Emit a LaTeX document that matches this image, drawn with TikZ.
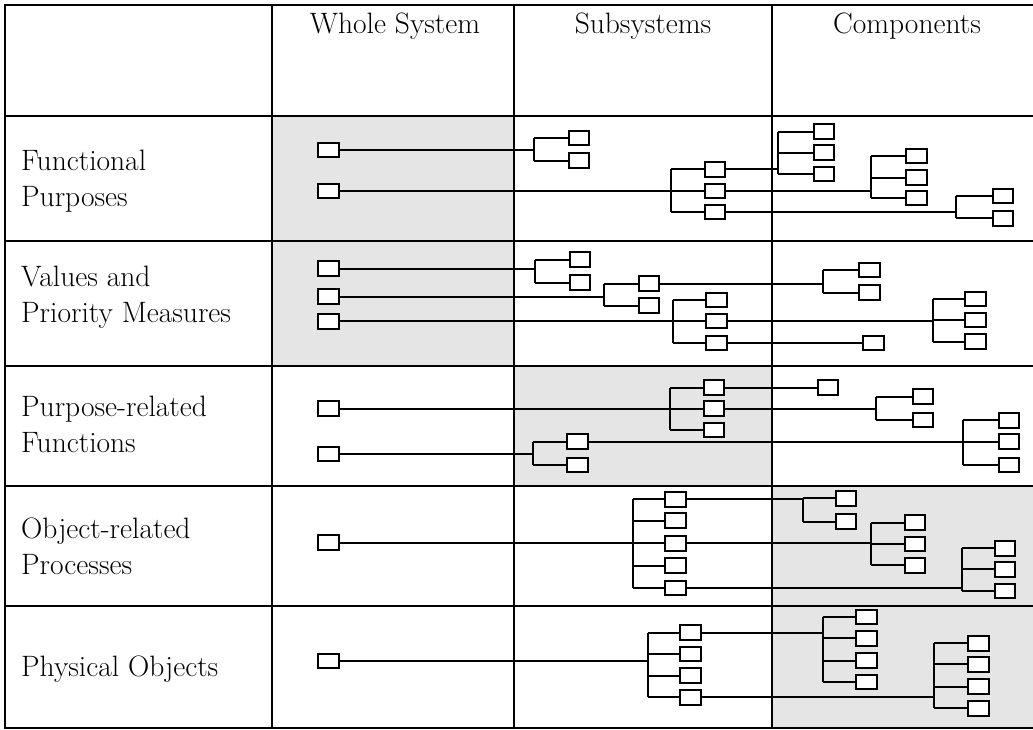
\documentclass[tikz,border=0pt]{standalone}
\definecolor{cellgray}{RGB}{229,229,229}
\newcommand\labelfont{\fontsize{29.5}{36}\selectfont}
\tikzset{
  tablerule/.style={line width=2.5pt, line cap=rect},
  link/.style={line width=2pt},
  unit/.style={draw, line width=2pt, fill=white, minimum width=20.5pt,
    minimum height=14.5pt, inner sep=0pt, outer sep=0pt},
  header/.style={anchor=base, font=\labelfont, inner sep=0pt},
  rowlabel/.style={anchor=north west, align=left, font=\labelfont, inner sep=0pt}
}
% parent, bracket x, first child, last child, all children
\newcommand\branch[5]{%
  \draw[link] (#1.east) -- (#2,0 |- #1.east);
  \draw[link] (#2,0 |- #3.west) -- (#2,0 |- #4.west);
  \foreach \kid in {#5} {\draw[link] (#2,0 |- \kid.west) -- (\kid.west);}
}
\begin{document}
\begin{tikzpicture}[x=1pt,y=-1pt]
\useasboundingbox (0,0) rectangle (1033,730);
\clip (0,0) rectangle (1033,730);

% shaded cells
\fill[cellgray] (272,116) rectangle (514,366);
\fill[cellgray] (514,366) rectangle (772,486);
\fill[cellgray] (772,486) rectangle (1045,728);

% table rules
\foreach \yy in {5,116,241,366,486,606,728}
  \draw[tablerule] (5,\yy) -- (1045,\yy);
\foreach \xx in {5,272,514,772}
  \draw[tablerule] (\xx,5) -- (\xx,728);

% column headers
\node[header] (hw) at (395,34) {Whole System};
\node[header] (hs) at (643,34) {Subsystems};
\node[header] (hc) at (907,34) {Components};

% row labels
\node[rowlabel] (l1) at (21,148) {\rule{0pt}{22pt}Functional\\Purposes};
\node[rowlabel] (l2) at (21,264.7) {\rule{0pt}{22pt}Values and\\Priority Measures};
\node[rowlabel] (l3) at (21,394.7) {\rule{0pt}{22pt}Purpose-related\\Functions};
\node[rowlabel] (l4) at (21,516.3) {\rule{0pt}{22pt}Object-related\\Processes};
\node[rowlabel] (l5) at (21,654.7) {\rule{0pt}{22pt}Physical Objects};

% ---- Functional Purposes
\node[unit] (wa) at (328.5,150) {};
\node[unit] (wb) at (328.5,191) {};
\node[unit] (sa1) at (579,138) {};
\node[unit] (sa2) at (579,160.7) {};
\node[unit] (sb1) at (715,169.3) {};
\node[unit] (sb2) at (715,191) {};
\node[unit] (sb3) at (715,212) {};
\node[unit] (ca1) at (824,131.7) {};
\node[unit] (ca2) at (824,152.7) {};
\node[unit] (ca3) at (824,174) {};
\node[unit] (cb1) at (916.5,156) {};
\node[unit] (cb2) at (916.5,177.7) {};
\node[unit] (cb3) at (916.5,198) {};
\node[unit] (cc1) at (1003,196) {};
\node[unit] (cc2) at (1003,218.3) {};
\branch{wa}{534}{sa1}{sa2}{sa1,sa2}
\branch{wb}{671}{sb1}{sb3}{sb1,sb2,sb3}
\branch{sb1}{778}{ca1}{ca3}{ca1,ca2,ca3}
\branch{sb2}{870.7}{cb1}{cb3}{cb1,cb2,cb3}
\branch{sb3}{956}{cc1}{cc2}{cc1,cc2}

% ---- Values and Priority Measures
\node[unit] (va) at (328.5,268.5) {};
\node[unit] (vb) at (328.5,296.5) {};
\node[unit] (vc) at (328.5,321.3) {};
\node[unit] (va1) at (580,259.5) {};
\node[unit] (va2) at (580,282.7) {};
\node[unit] (vb1) at (649,283.5) {};
\node[unit] (vb2) at (649,305.5) {};
\node[unit] (vc1) at (716.5,300) {};
\node[unit] (vc2) at (716.5,321) {};
\node[unit] (vc3) at (716.5,343) {};
\node[unit] (vd1) at (869.7,270) {};
\node[unit] (vd2) at (869.7,292.7) {};
\node[unit] (ve1) at (975.7,299) {};
\node[unit] (ve2) at (975.7,320) {};
\node[unit] (ve3) at (975.7,341.7) {};
\node[unit] (vf) at (873.7,343) {};
\branch{va}{535.3}{va1}{va2}{va1,va2}
\branch{vb}{604}{vb1}{vb2}{vb1,vb2}
\branch{vc}{672.7}{vc1}{vc3}{vc1,vc2,vc3}
\branch{vb1}{823.3}{vd1}{vd2}{vd1,vd2}
\branch{vc2}{933.3}{ve1}{ve3}{ve1,ve2,ve3}
\draw[link] (vc3.east) -- (vf.west);

% ---- Purpose-related Functions
\node[unit] (pa) at (328.5,408.5) {};
\node[unit] (pb) at (328.5,454) {};
\node[unit] (pa1) at (714,387.5) {};
\node[unit] (pa2) at (714,408.5) {};
\node[unit] (pa3) at (714,430) {};
\node[unit] (pb1) at (577.7,441.7) {};
\node[unit] (pb2) at (577.7,465) {};
\node[unit] (pc) at (828,387.5) {};
\node[unit] (pd1) at (923,396.7) {};
\node[unit] (pd2) at (923,420) {};
\node[unit] (pe1) at (1009,420.3) {};
\node[unit] (pe2) at (1009,441.7) {};
\node[unit] (pe3) at (1009,465) {};
\branch{pa}{670.3}{pa1}{pa3}{pa1,pa2,pa3}
\branch{pb}{532.7}{pb1}{pb2}{pb1,pb2}
\branch{pa2}{876}{pd1}{pd2}{pd1,pd2}
\branch{pb1}{963.3}{pe1}{pe3}{pe1,pe2,pe3}
\draw[link] (pa1.east) -- (pc.west);

% ---- Object-related Processes
\node[unit] (oa) at (328.5,542.5) {};
\node[unit] (o1) at (675.7,499.3) {};
\node[unit] (o2) at (675.7,520.5) {};
\node[unit] (o3) at (675.7,543.3) {};
\node[unit] (o4) at (675.7,565.7) {};
\node[unit] (o5) at (675.7,588) {};
\node[unit] (ob1) at (846,498.3) {};
\node[unit] (ob2) at (846,521.7) {};
\node[unit] (oc1) at (915,522.7) {};
\node[unit] (oc2) at (915,544) {};
\node[unit] (oc3) at (915,565.3) {};
\node[unit] (od1) at (1005,548.3) {};
\node[unit] (od2) at (1005,569.3) {};
\node[unit] (od3) at (1005,591) {};
\branch{oa}{633.3}{o1}{o5}{o1,o2,o3,o4,o5}
\branch{o1}{802.7}{ob1}{ob2}{ob1,ob2}
\branch{o3}{871}{oc1}{oc3}{oc1,oc2,oc3}
\branch{o5}{961.7}{od1}{od3}{od1,od2,od3}

% ---- Physical Objects
\node[unit] (ha) at (328.5,661) {};
\node[unit] (h1) at (690.3,632.7) {};
\node[unit] (h2) at (690.3,654) {};
\node[unit] (h3) at (690.3,675.7) {};
\node[unit] (h4) at (690.3,697.3) {};
\node[unit] (hb1) at (866.3,617) {};
\node[unit] (hb2) at (866.3,638.3) {};
\node[unit] (hb3) at (866.3,660.7) {};
\node[unit] (hb4) at (866.3,682) {};
\node[unit] (hc1) at (978.3,643.3) {};
\node[unit] (hc2) at (978.3,664.3) {};
\node[unit] (hc3) at (978.3,686.7) {};
\node[unit] (hc4) at (978.3,708.3) {};
\branch{ha}{647.7}{h1}{h4}{h1,h2,h3,h4}
\branch{h1}{823.3}{hb1}{hb4}{hb1,hb2,hb3,hb4}
\branch{h4}{934}{hc1}{hc4}{hc1,hc2,hc3,hc4}
\end{tikzpicture}
\end{document}
